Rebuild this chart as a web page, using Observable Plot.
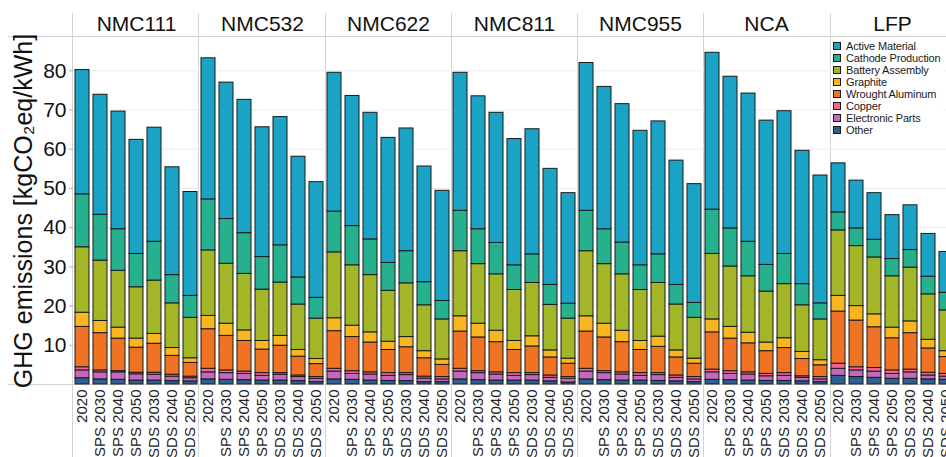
<!DOCTYPE html>
<html>
<head>
<meta charset="utf-8">
<script src="https://cdn.jsdelivr.net/npm/d3@7"></script>
<script src="https://cdn.jsdelivr.net/npm/@observablehq/plot@0.6"></script>
<style>
  html, body { margin: 0; padding: 0; background: #fff; overflow: hidden; width: 946px; height: 457px; }
  #wrap { position: relative; width: 956px; height: 457px; }
  #legend { position: absolute; left: 831px; top: 40px; font: 11px "Liberation Sans", Arial, sans-serif; letter-spacing: -0.15px; color: #1a1a1a; background: #fff; padding: 0 2px; }
  #legend .row { display: flex; align-items: center; height: 12px; white-space: nowrap; }
  #legend .sw { width: 6px; height: 6px; border: 1px solid #1a1a1a; margin-right: 5px; flex: none; }
</style>
</head>
<body>
<div id="wrap"></div>
<script>
// Cell chemistries (facets), scenarios (bars) and emission sources (stack layers)
const chemistries = ["NMC111", "NMC532", "NMC622", "NMC811", "NMC955", "NCA", "LFP"];
const scenarios = ["2020", "SPS 2030", "SPS 2040", "SPS 2050", "SDS 2030", "SDS 2040", "SDS 2050"];
const components = ["Active Material", "Cathode Production", "Battery Assembly", "Graphite",
                    "Wrought Aluminum", "Copper", "Electronic Parts", "Other"];
const colors = ["#1BA3C6", "#25B08E", "#A2B627", "#F8B620", "#EF7323", "#F7648F", "#C467C0", "#30608F"];
const yTicks = [10, 20, 30, 40, 50, 60, 70, 80];
const yTitle = "GHG emissions [kgCO₂eq/kWh]";

// kgCO2eq/kWh per source; seven scenarios per chemistry, chemistries in order above
const activeMaterial = [
  31.7, 30.6, 30.0, 29.1, 29.1, 27.5, 26.5,
  36.0, 34.8, 34.0, 33.1, 32.7, 30.8, 29.5,
  35.4, 33.2, 32.3, 31.9, 31.3, 29.5, 28.1,
  35.2, 33.9, 33.2, 32.2, 31.9, 29.6, 28.2,
  37.7, 36.3, 35.3, 34.3, 33.9, 31.7, 30.3,
  40.0, 38.7, 37.8, 36.8, 36.4, 34.0, 32.6,
  12.5, 12.2, 11.9, 11.2, 11.4, 10.9, 10.4
];
const cathodeProduction = [
  13.5, 11.7, 10.6, 8.5, 9.9, 7.2, 5.6,
  13.0, 11.4, 10.4, 8.3, 9.5, 6.9, 5.3,
  10.4, 10.0, 9.1, 7.1, 8.2, 5.9, 4.7,
  10.3, 8.9, 8.0, 6.3, 7.3, 5.1, 3.8,
  10.3, 8.9, 8.1, 6.3, 7.3, 5.0, 3.8,
  11.3, 9.7, 8.8, 6.8, 7.7, 5.4, 4.1,
  4.6, 4.5, 4.5, 4.4, 4.5, 4.5, 4.5
];
const batteryAssembly = [
  16.7, 15.4, 14.5, 13.1, 13.6, 11.4, 10.3,
  16.7, 15.3, 14.4, 13.1, 13.6, 11.6, 10.3,
  16.8, 15.4, 14.6, 13.0, 13.7, 11.7, 10.2,
  16.6, 15.2, 14.4, 13.0, 13.6, 11.6, 10.2,
  16.6, 15.2, 14.4, 13.0, 13.7, 11.7, 10.4,
  16.7, 15.4, 14.4, 13.0, 13.8, 11.9, 10.4,
  16.7, 15.3, 14.5, 13.1, 13.7, 11.6, 10.4
];
const graphite = [
  3.6, 3.1, 2.8, 2.3, 2.5, 2.0, 1.2,
  3.4, 3.1, 2.7, 2.2, 2.5, 1.7, 1.3,
  3.3, 2.9, 2.6, 2.1, 2.6, 1.8, 1.4,
  3.9, 3.5, 2.9, 2.3, 2.6, 1.8, 1.3,
  3.9, 3.5, 2.9, 2.3, 2.6, 1.8, 1.3,
  3.3, 3.0, 2.7, 2.2, 2.5, 1.8, 1.3,
  4.0, 3.7, 3.3, 2.7, 3.0, 2.2, 1.5
];
const wroughtAluminum = [
  10.3, 9.5, 8.3, 6.4, 7.4, 4.8, 3.5,
  10.1, 8.8, 7.8, 6.0, 7.0, 4.8, 3.3,
  9.6, 8.7, 7.6, 5.9, 6.6, 4.7, 3.1,
  9.5, 8.6, 7.7, 5.9, 6.8, 4.6, 3.4,
  9.5, 8.6, 7.7, 5.9, 6.7, 4.6, 3.4,
  9.5, 8.3, 7.4, 5.8, 6.4, 4.4, 3.0,
  13.3, 11.9, 10.4, 8.2, 9.3, 6.2, 4.3
];
const copper = [
  0.8, 0.5, 0.3, 0.4, 0.5, 0.5, 0.4,
  0.9, 0.7, 0.6, 0.7, 0.4, 0.4, 0.45,
  0.7, 0.7, 0.55, 0.7, 0.5, 0.5, 0.6,
  0.7, 0.5, 0.55, 0.7, 0.5, 0.6, 0.45,
  0.7, 0.5, 0.55, 0.7, 0.5, 0.6, 0.6,
  0.7, 0.7, 0.55, 0.6, 0.7, 0.4, 0.6,
  1.3, 0.8, 0.9, 0.9, 0.7, 0.7, 0.7
];
const electronicParts = [
  2.0, 1.8, 1.9, 1.6, 1.5, 1.15, 0.8,
  1.8, 1.7, 1.6, 1.2, 1.5, 1.05, 0.85,
  2.0, 1.5, 1.55, 1.3, 1.55, 0.9, 0.7,
  2.0, 1.8, 1.55, 1.2, 1.4, 0.9, 0.95,
  2.0, 1.8, 1.55, 1.2, 1.5, 0.9, 0.7,
  1.9, 1.6, 1.55, 1.2, 1.3, 0.9, 0.7,
  1.8, 1.7, 1.6, 1.25, 1.65, 1.0, 0.8
];
const other = [
  1.6, 1.3, 1.2, 1.0, 1.0, 0.85, 0.8,
  1.3, 1.2, 1.1, 1.0, 1.0, 0.85, 0.6,
  1.3, 1.2, 1.0, 0.9, 0.85, 0.6, 0.6,
  1.3, 1.1, 1.0, 1.0, 1.0, 0.8, 0.5,
  1.3, 1.1, 1.0, 1.0, 0.9, 0.8, 0.6,
  1.2, 1.1, 1.0, 0.9, 0.9, 0.8, 0.6,
  2.2, 1.9, 1.7, 1.45, 1.45, 1.3, 1.2
];

// Long-format table, bottom layer (Other) first so it stacks at the base
const layers = [activeMaterial, cathodeProduction, batteryAssembly, graphite,
                wroughtAluminum, copper, electronicParts, other];
const table = [];
for (let k = components.length - 1; k >= 0; --k) {
  chemistries.forEach((chem, i) => {
    scenarios.forEach((scen, j) => {
      table.push({chemistry: chem, scenario: scen, component: components[k], value: layers[k][i * scenarios.length + j]});
    });
  });
}

const font = "'Liberation Sans', Arial, Helvetica, sans-serif";

const plot = Plot.plot({
  width: 956,
  height: 457,
  marginLeft: 72,
  marginRight: 0,
  marginTop: 37,
  marginBottom: 73,
  style: {fontFamily: font, background: "transparent", maxWidth: "none", overflow: "visible", color: "#111"},
  fx: {domain: chemistries, padding: 0, label: null},
  x: {domain: scenarios, paddingInner: 0.2, paddingOuter: 0.1, label: null},
  y: {domain: [0, 88.5], label: null},
  color: {domain: components, range: colors},
  marks: [
    Plot.gridY(yTicks, {stroke: "#ebebeb", strokeOpacity: 1, strokeWidth: 1}),
    Plot.barY(table, {
      fx: "chemistry", x: "scenario", y: "value", fill: "component",
      stroke: "#1a1a1a", strokeWidth: 1
    }),
    Plot.axisY(yTicks, {
      fontSize: 21, tickSize: 4, tickPadding: 3, stroke: "#b3b3b3", fill: "#111", label: null
    }),
    // y-axis title, shown on the first panel only
    Plot.text([yTitle], {
      fx: () => chemistries[0], text: d => d, frameAnchor: "left", dx: -50,
      rotate: -90, textAnchor: "middle", lineAnchor: "middle", fontSize: 25, fill: "#111"
    }),
    Plot.axisX({tickRotate: -90, fontSize: 15, tickSize: 0, tickPadding: 5, fill: "#222", label: null}),
    Plot.axisFx({anchor: "top", fontSize: 21, tickSize: 0, tickPadding: 7, fill: "#111", label: null})
  ]
});

// Panel dividers and strip/base rules, positioned from the plot's own scales
const svg = d3.select(plot);
const fxScale = plot.scale("fx");
const yScale = plot.scale("y");
const [fx0, fx1] = fxScale.range;
const step = (fx1 - fx0) / chemistries.length;
const yBase = yScale.range[0];
const yTop = yScale.range[1];
const deco = svg.insert("g", "g").attr("stroke", "#d4d4d4").attr("stroke-width", 1);
chemistries.forEach((c, i) => {
  const x = Math.round(fx0 + i * step) + 0.5;
  deco.append("line").attr("x1", x).attr("x2", x).attr("y1", 13).attr("y2", 457);
});
deco.append("line").attr("x1", 8).attr("x2", 956).attr("y1", Math.round(yTop) - 0.5).attr("y2", Math.round(yTop) - 0.5);
deco.append("line").attr("x1", 8).attr("x2", 956).attr("y1", Math.round(yBase) + 0.5).attr("y2", Math.round(yBase) + 0.5);

const wrap = document.getElementById("wrap");
wrap.appendChild(plot);

// Legend in the upper-left of the last panel
const legend = document.createElement("div");
legend.id = "legend";
components.forEach((name, i) => {
  const row = document.createElement("div");
  row.className = "row";
  const sw = document.createElement("span");
  sw.className = "sw";
  sw.style.background = colors[i];
  row.appendChild(sw);
  row.appendChild(document.createTextNode(name));
  legend.appendChild(row);
});
wrap.appendChild(legend);
</script>
</body>
</html>
